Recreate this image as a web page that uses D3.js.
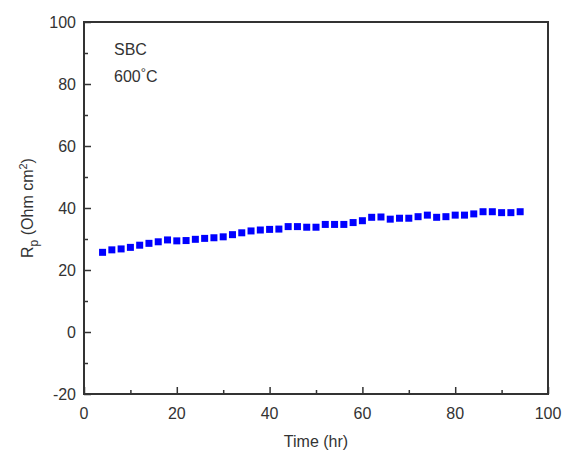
<!DOCTYPE html>
<html>
<head>
<meta charset="utf-8">
<script src="https://cdn.jsdelivr.net/npm/d3@7"></script>
<style>
  body { margin: 0; background: #fff; }
  text { font-family: "Liberation Sans", Arial, sans-serif; fill: #333; }
</style>
</head>
<body>
<svg id="chart" width="563" height="450"></svg>
<script>
const hours = [4, 6, 8, 10, 12, 14, 16, 18, 20, 22, 24, 26, 28, 30, 32, 34, 36, 38, 40, 42, 44, 46,
  48, 50, 52, 54, 56, 58, 60, 62, 64, 66, 68, 70, 72, 74, 76, 78, 80, 82, 84, 86, 88, 90, 92, 94];
const rp = [25.7, 26.5, 26.8, 27.3, 28.0, 28.6, 29.1, 29.7, 29.4, 29.5, 29.9, 30.2, 30.4, 30.7, 31.4,
  32.0, 32.6, 32.9, 33.1, 33.2, 34.0, 34.0, 33.8, 33.8, 34.7, 34.7, 34.7, 35.3, 35.9, 37.0, 37.1,
  36.4, 36.7, 36.7, 37.2, 37.7, 37.0, 37.2, 37.7, 37.7, 38.1, 38.8, 38.8, 38.5, 38.5, 38.8];
const xTicks = [0, 20, 40, 60, 80, 100];
const yTicks = [-20, 0, 20, 40, 60, 80, 100];
const xMinor = [10, 30, 50, 70, 90];
const yMinor = [-10, 10, 30, 50, 70, 90];

const margin = {left: 84, right: 15, top: 22, bottom: 56};
const width = 563, height = 450;
const svg = d3.select("#chart");

const x = d3.scaleLinear([0, 100], [margin.left, width - margin.right]);
const y = d3.scaleLinear([-20, 100], [height - margin.bottom, margin.top]);

// minor ticks (inward)
svg.append("g")
  .attr("transform", `translate(0,${y(-20)})`)
  .call(d3.axisTop(x).tickValues(xMinor).tickSize(4).tickFormat(""))
  .call(g => g.select(".domain").remove())
  .call(g => g.selectAll("line").attr("stroke", "#333").attr("stroke-width", 1.5));
svg.append("g")
  .attr("transform", `translate(${x(0)},0)`)
  .call(d3.axisRight(y).tickValues(yMinor).tickSize(4).tickFormat(""))
  .call(g => g.select(".domain").remove())
  .call(g => g.selectAll("line").attr("stroke", "#333").attr("stroke-width", 1.5));

// major ticks (inward) + labels
svg.append("g")
  .attr("transform", `translate(0,${y(-20)})`)
  .call(d3.axisTop(x).tickValues(xTicks).tickSize(7).tickFormat(""))
  .call(g => g.select(".domain").remove())
  .call(g => g.selectAll("line").attr("stroke", "#333").attr("stroke-width", 1.5));
svg.append("g")
  .attr("transform", `translate(${x(0)},0)`)
  .call(d3.axisRight(y).tickValues(yTicks).tickSize(7).tickFormat(""))
  .call(g => g.select(".domain").remove())
  .call(g => g.selectAll("line").attr("stroke", "#333").attr("stroke-width", 1.5));

svg.append("g")
  .selectAll("text")
  .data(xTicks)
  .join("text")
  .attr("x", d => x(d))
  .attr("y", y(-20) + 25)
  .attr("text-anchor", "middle")
  .style("font-size", "16px")
  .text(d => d);

svg.append("g")
  .selectAll("text")
  .data(yTicks)
  .join("text")
  .attr("x", x(0) - 8)
  .attr("y", d => y(d) + 6)
  .attr("text-anchor", "end")
  .style("font-size", "16px")
  .text(d => d);

// frame
svg.append("rect")
  .attr("x", x(0)).attr("y", y(100))
  .attr("width", x(100) - x(0)).attr("height", y(-20) - y(100))
  .attr("fill", "none").attr("stroke", "#333").attr("stroke-width", 2);

// data
const size = 7;
svg.append("g")
  .attr("fill", "#0000ff")
  .selectAll("rect")
  .data(hours.map((h, i) => [h, rp[i]]))
  .join("rect")
  .attr("x", d => x(d[0]) - size / 2)
  .attr("y", d => y(d[1]) - size / 2)
  .attr("width", size)
  .attr("height", size);

// annotations
svg.append("text").attr("x", 114).attr("y", 55).style("font-size", "16px").text("SBC");
const t = svg.append("text").attr("x", 114).attr("y", 82).style("font-size", "16px");
t.append("tspan").text("600");
t.append("tspan").attr("dy", -5).style("font-size", "13px").text("°");
t.append("tspan").attr("dy", 5).text("C");

// axis titles
svg.append("text")
  .attr("x", (x(0) + x(100)) / 2)
  .attr("y", 447)
  .attr("text-anchor", "middle")
  .style("font-size", "16px")
  .text("Time (hr)");

const yt = svg.append("text")
  .attr("transform", `translate(33,${(y(-20) + y(100)) / 2}) rotate(-90)`)
  .attr("text-anchor", "middle")
  .style("font-size", "16px");
yt.append("tspan").text("R");
yt.append("tspan").attr("dy", 5).style("font-size", "12px").text("p");
yt.append("tspan").attr("dy", -5).text(" (Ohm cm");
yt.append("tspan").attr("dy", -6).style("font-size", "11px").text("2");
yt.append("tspan").attr("dy", 6).text(")");
</script>
</body>
</html>
